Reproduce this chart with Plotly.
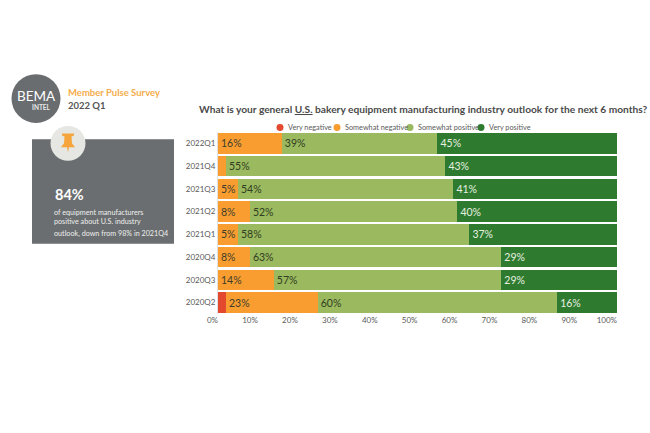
import plotly.graph_objects as go

quarters = ["2022Q1", "2021Q4", "2021Q3", "2021Q2", "2021Q1", "2020Q4", "2020Q3", "2020Q2"]
very_negative = [0, 0, 0, 0, 0, 0, 0, 2]
somewhat_negative = [16, 2, 5, 8, 5, 8, 14, 23]
somewhat_positive = [39, 55, 54, 52, 58, 63, 57, 60]
very_positive = [45, 43, 41, 40, 37, 29, 29, 15]
very_positive_labels = ["45%", "43%", "41%", "40%", "37%", "29%", "29%", "16%"]
somewhat_negative_labels = ["16%", "", "5%", "8%", "5%", "8%", "14%", "23%"]
somewhat_positive_labels = ["39%", "55%", "54%", "52%", "58%", "63%", "57%", "60%"]
x_ticks = list(range(0, 101, 10))
x_tick_labels = [f"{t}%" for t in x_ticks]
series_names = ["Very negative", "Somewhat negative", "Somewhat positive", "Very positive"]
series_colors = ["#e2492f", "#f99d31", "#9bb95f", "#2e7b2f"]
legend_dots = [280, 337, 410, 481]

W, H = 650, 433
FONT = "Lato"
LEFT, RIGHT, TOP, BOTTOM = 218, 617, 131.6, 314.5


def px(x):
    return (x - LEFT) / (RIGHT - LEFT)


def py(y):
    return (BOTTOM - y) / (BOTTOM - TOP)


fig = go.Figure()
rows = [
    (very_negative, [""] * 8, "#ffffff"),
    (somewhat_negative, somewhat_negative_labels, "#3d3d2a"),
    (somewhat_positive, somewhat_positive_labels, "#2f3d20"),
    (very_positive, very_positive_labels, "#e8f0e0"),
]
for name, color, (vals, labels, tc) in zip(series_names, series_colors, rows):
    fig.add_trace(go.Bar(
        y=quarters, x=vals, name=name, orientation="h", marker=dict(color=color, line_width=0),
        text=labels, textposition="inside", insidetextanchor="start", constraintext="none",
        textangle=0, textfont=dict(family=FONT, size=10.5, color=tc), showlegend=False,
        cliponaxis=False,
    ))

shapes = []
annotations = []


def text(x, y, s, size, color, anchor="left", family=FONT):
    annotations.append(dict(x=px(x), y=py(y), xref="paper", yref="paper", text=s, showarrow=False,
                            xanchor=anchor, yanchor="middle", borderpad=0, borderwidth=0,
                            font=dict(family=family, size=size, color=color)))


def circle(cx, cy, r, color):
    shapes.append(dict(type="circle", xref="paper", yref="paper", x0=px(cx - r), x1=px(cx + r),
                       y0=py(cy + r), y1=py(cy - r), fillcolor=color, line_width=0))


# logo, heading
circle(36, 98, 24.5, "#696d6f")
text(36, 95, "BEMA", 13.5, "#ffffff", "center")
text(41, 107, "<b>INTEL</b>", 6.5, "#e8e8e8", "center")
text(68, 92, "<b>Member Pulse Survey</b>", 9.5, "#f5ac4c")
text(68, 105, "<b>2022 Q1</b>", 9.5, "#555555")

# call-out panel
shapes.append(dict(type="rect", xref="paper", yref="paper", x0=px(32), x1=px(174), y0=py(244), y1=py(139),
                   fillcolor="#6a6e70", line_width=0))
circle(68, 143, 17.5, "#e6e6e3")
pin = [(62, 133), (74, 133), (74, 135), (71.5, 136), (72, 143), (75, 147), (69, 147), (68, 152),
       (67, 147), (61, 147), (64, 143), (64.5, 136), (62, 135)]
shapes.append(dict(type="path", xref="paper", yref="paper",
                   path="M " + " L ".join(f"{px(a):.5f},{py(b):.5f}" for a, b in pin) + " Z",
                   fillcolor="#f5a53c", line_width=0))
text(55, 194, "<b>84%</b>", 14.5, "#ffffff")
text(54, 212, "of equipment manufacturers", 7.2, "#eeeeee")
text(54, 222, "positive about U.S. industry", 7.2, "#eeeeee")
text(54, 234, "outlook, down from 98% in 2021Q4", 7.2, "#eeeeee")

# chart title and legend
text(199, 108, "<b>What is your general <u>U.S.</u> bakery equipment manufacturing industry outlook for the next 6 months?</b>",
     10.2, "#4a4a4a")
for name, color, dot in zip(series_names, series_colors, legend_dots):
    circle(dot, 127, 3.5, color)
    text(dot + 8, 127, name, 7.3, "#5a5a5a")

fig.update_layout(
    width=W, height=H, paper_bgcolor="#ffffff", plot_bgcolor="#ffffff", barmode="stack", bargap=0.1,
    showlegend=False, margin=dict(l=LEFT, r=W - RIGHT, t=TOP, b=H - BOTTOM, autoexpand=False),
    shapes=shapes, annotations=annotations, font=dict(family=FONT, color="#4d4d4d"),
)
fig.update_xaxes(range=[0, 100], tickvals=x_ticks, ticktext=x_tick_labels, showgrid=False, zeroline=False,
                 ticklabelposition="outside left", ticks="", tickfont=dict(family=FONT, size=8, color="#5a5a5a"))
fig.update_yaxes(categoryorder="array", categoryarray=quarters[::-1], showgrid=False, ticks="", ticklen=0,
                 showline=True, linecolor="#e0e0e0", linewidth=1, tickfont=dict(family=FONT, size=8, color="#5a5a5a"))

fig.write_html("out.html", config=dict(displayModeBar=False),
               post_script="document.body.style.margin='0';document.body.style.overflow='hidden';")
